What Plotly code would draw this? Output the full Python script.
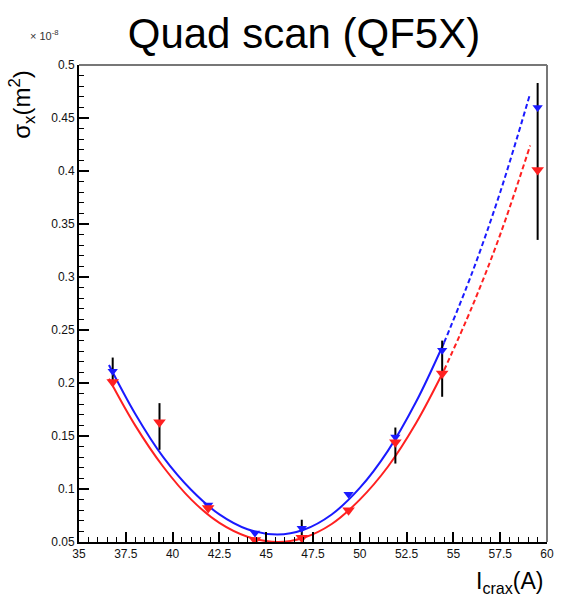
import plotly.graph_objects as go

# ---- data ----
blue_x = [36.8, 39.3, 41.9, 44.4, 46.9, 49.4, 51.9, 54.4, 59.5]
blue_y = [0.211, 0.163, 0.085, 0.0585, 0.063, 0.095, 0.149, 0.231, 0.460]
red_x = [36.8, 39.3, 41.9, 44.4, 46.9, 49.4, 51.9, 54.4, 59.5]
red_y = [0.201, 0.163, 0.082, 0.052, 0.054, 0.080, 0.144, 0.209, 0.401]

err_x = [36.8, 39.3, 46.9, 51.9, 54.4, 59.5]
err_lo = [0.199, 0.137, 0.052, 0.124, 0.187, 0.335]
err_hi = [0.224, 0.181, 0.071, 0.158, 0.240, 0.483]

fit_x_solid = [36.6, 38, 39.5, 41, 42.5, 44, 45.6, 47, 48.5, 50, 51.5, 53, 54.5]
fit_x_dash = [54.5, 56, 57.5, 59.1]
blue_fit_solid = [0.217, 0.171, 0.130, 0.099, 0.076, 0.062, 0.057, 0.0615, 0.076, 0.101, 0.136, 0.182, 0.238]
blue_fit_dash = [0.238, 0.304, 0.380, 0.473]
red_fit_solid = [0.204, 0.160, 0.121, 0.090, 0.068, 0.055, 0.050, 0.054, 0.067, 0.090, 0.121, 0.162, 0.212]
red_fit_dash = [0.212, 0.272, 0.340, 0.424]

x_ticks = [35, 37.5, 40, 42.5, 45, 47.5, 50, 52.5, 55, 57.5, 60]
y_ticks = [0.05, 0.1, 0.15, 0.2, 0.25, 0.3, 0.35, 0.4, 0.45, 0.5]

BLUE = "#1a1aff"
RED = "#ff2020"

fig = go.Figure()

# fit curves
fig.add_trace(go.Scatter(x=fit_x_solid, y=red_fit_solid, mode="lines", line=dict(color=RED, width=2, shape="spline"), hoverinfo="skip"))
fig.add_trace(go.Scatter(x=fit_x_dash, y=red_fit_dash, mode="lines", line=dict(color=RED, width=2, dash="5px,3px", shape="spline"), hoverinfo="skip"))
fig.add_trace(go.Scatter(x=fit_x_solid, y=blue_fit_solid, mode="lines", line=dict(color=BLUE, width=2, shape="spline"), hoverinfo="skip"))
fig.add_trace(go.Scatter(x=fit_x_dash, y=blue_fit_dash, mode="lines", line=dict(color=BLUE, width=2, dash="5px,3px", shape="spline"), hoverinfo="skip"))

# error bars (black vertical lines)
mid = [(a + b) / 2 for a, b in zip(err_lo, err_hi)]
half = [(b - a) / 2 for a, b in zip(err_lo, err_hi)]
fig.add_trace(go.Scatter(x=err_x, y=mid, mode="markers", marker=dict(size=1, color="rgba(0,0,0,0)"),
                         error_y=dict(type="data", array=half, color="black", thickness=2, width=0), hoverinfo="skip"))

# data points
fig.add_trace(go.Scatter(x=blue_x, y=blue_y, mode="markers",
                         marker=dict(symbol="triangle-down", size=9, color=BLUE)))
fig.add_trace(go.Scatter(x=red_x, y=red_y, mode="markers",
                         marker=dict(symbol="triangle-down", size=11, color=RED)))

FONT = "Liberation Sans"

fig.update_layout(
    width=565, height=598,
    margin=dict(l=79, r=18, t=65, b=56),
    paper_bgcolor="white", plot_bgcolor="white",
    showlegend=False,
    font=dict(family=FONT, color="#333333"),
    title=dict(text="Quad scan (QF5X)", x=0.538, xanchor="center", y=0.945, yanchor="middle",
               font=dict(family=FONT, size=42, color="black")),
)

fig.update_xaxes(
    range=[35, 60], tickvals=x_ticks, ticktext=[str(v) for v in x_ticks],
    ticks="inside", ticklen=10, tickwidth=1.5, tickcolor="black",
    minor=dict(ticks="inside", dtick=0.5, ticklen=5, tickcolor="black", tickwidth=1),
    showline=True, linecolor="black", linewidth=2, showgrid=False, zeroline=False,
    tickfont=dict(size=12, color="#111111"), automargin=False,
)
fig.update_yaxes(
    range=[0.05, 0.5], tickvals=y_ticks, ticktext=[f"{v:g}" for v in y_ticks],
    ticks="inside", ticklen=10, tickwidth=1.5, tickcolor="black",
    minor=dict(ticks="inside", dtick=0.01, ticklen=5, tickcolor="black", tickwidth=1),
    showline=True, linecolor="black", linewidth=2, showgrid=False, zeroline=False,
    tickfont=dict(size=12, color="#111111"), automargin=False,
)

# top and right frame lines (gray)
fig.add_shape(type="line", xref="paper", yref="paper", x0=0, x1=1, y0=1, y1=1, line=dict(color="#777777", width=2))
fig.add_shape(type="line", xref="paper", yref="paper", x0=1, x1=1, y0=0, y1=1, line=dict(color="#777777", width=2))

# exponent label
fig.add_annotation(text="× 10<sup>-8</sup>", xref="paper", yref="paper", x=-0.11, y=1.062,
                   xanchor="left", yanchor="middle", showarrow=False, font=dict(size=11, color="#333333"))
# y-axis title
fig.add_annotation(text="σ<sub>x</sub>(m<sup>2</sup>)", xref="paper", yref="paper", x=-0.122, y=0.995,
                   xanchor="center", yanchor="top", textangle=-90, showarrow=False,
                   font=dict(size=24, color="black"))
# x-axis title
fig.add_annotation(text="I<sub>crax</sub>(A)", xref="paper", yref="paper", x=0.996, y=-0.084,
                   xanchor="right", yanchor="middle", showarrow=False, font=dict(size=23, color="black"))

fig.write_html("out.html", post_script="document.body.style.margin='0';",
               config={"displayModeBar": False})
